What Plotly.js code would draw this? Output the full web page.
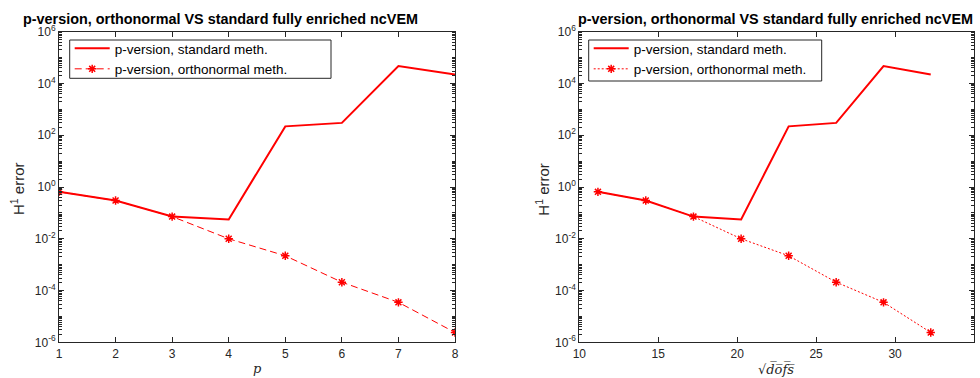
<!DOCTYPE html>
<html>
<head>
<meta charset="utf-8">
<script src="https://cdn.plot.ly/plotly-3.0.1.min.js"></script>
<style>html,body{margin:0;padding:0;background:#fff}#chart{width:980px;height:378px}</style>
</head>
<body>
<div id="chart"></div>
<script>
// Data
const pValues = [1, 2, 3, 4, 5, 6, 7, 8];
const sqrtDofs = [11.18, 14.21, 17.23, 20.25, 23.26, 26.27, 29.27, 32.26];
const errStandard = [0.65, 0.30, 0.072, 0.056, 220, 300, 47000, 22000];
const errOrtho = [0.65, 0.30, 0.072, 0.010, 0.0022, 2.1e-4, 3.5e-5, 2.4e-6];
const yTickVals = [1e-6, 1e-4, 1e-2, 1e0, 1e2, 1e4, 1e6];
const yTickText = ['10<sup>-6</sup>', '10<sup>-4</sup>', '10<sup>-2</sup>', '10<sup>0</sup>', '10<sup>2</sup>', '10<sup>4</sup>', '10<sup>6</sup>'];
const chartTitle = 'p-version, orthonormal VS standard fully enriched ncVEM';
const nameStandard = 'p-version, standard meth.';
const nameOrtho = 'p-version, orthonormal meth.';

const RED = '#ff0000';
const AX = '#262626';
const FONT = 'Liberation Sans, Arial, sans-serif';

const traces = [
  {x: pValues, y: errStandard, type: 'scatter', mode: 'lines', name: nameStandard,
   line: {color: RED, width: 2}, xaxis: 'x', yaxis: 'y', legend: 'legend'},
  {x: pValues, y: errOrtho, type: 'scatter', mode: 'lines+markers', name: nameOrtho,
   line: {color: RED, width: 1, dash: '7px,4px'}, marker: {symbol: 'asterisk-open', size: 7, color: RED, line: {color: RED, width: 1.5}},
   xaxis: 'x', yaxis: 'y', legend: 'legend'},
  {x: sqrtDofs, y: errStandard, type: 'scatter', mode: 'lines', name: nameStandard,
   line: {color: RED, width: 2}, xaxis: 'x2', yaxis: 'y2', legend: 'legend2'},
  {x: sqrtDofs, y: errOrtho, type: 'scatter', mode: 'lines+markers', name: nameOrtho,
   line: {color: RED, width: 1, dash: '2px,2px'}, marker: {symbol: 'asterisk-open', size: 7, color: RED, line: {color: RED, width: 1.5}},
   xaxis: 'x2', yaxis: 'y2', legend: 'legend2'}
];

function xAxis(domain, range, dtick, anchor) {
  return {domain: domain, range: range, dtick: dtick, tick0: 0, anchor: anchor,
    showline: true, mirror: 'ticks', linecolor: AX, linewidth: 1,
    ticks: 'inside', ticklen: 5, tickcolor: AX, showgrid: false, zeroline: false,
    tickfont: {family: FONT, size: 12, color: AX}};
}
function yAxis(domain, anchor) {
  return {type: 'log', domain: domain, range: [-6, 6], anchor: anchor,
    tickmode: 'array', tickvals: yTickVals, ticktext: yTickText,
    showline: true, mirror: 'ticks', linecolor: AX, linewidth: 1,
    ticks: 'inside', ticklen: 5, tickcolor: AX, showgrid: false, zeroline: false,
    minor: {ticks: 'inside', ticklen: 3, tickcolor: AX, dtick: 'D1', showgrid: false},
    tickfont: {family: FONT, size: 12, color: AX}};
}

const yDom = [1 - 342.3/378, 1 - 31.7/378];
const legendStyle = (xpx) => ({x: xpx/980, y: 1 - 33/378, xanchor: 'left', yanchor: 'top', bgcolor: 'rgba(0,0,0,0)',
    borderwidth: 0, font: {family: FONT, size: 13.5, color: '#000'},
    tracegroupgap: 0, itemwidth: 35});
const legendBox = (x0, x1, y0, y1) => ({type: 'rect', xref: 'paper', yref: 'paper', layer: 'above',
    x0: x0/980, x1: x1/980, y0: 1 - y1/378, y1: 1 - y0/378,
    line: {color: AX, width: 1}, fillcolor: '#fff'});
const layout = {
  width: 980, height: 378,
  margin: {l: 0, r: 0, t: 0, b: 0},
  paper_bgcolor: '#fff', plot_bgcolor: '#fff',
  font: {family: FONT, color: AX},
  showlegend: true,
  xaxis: xAxis([59/980, 455/980], [1, 8], 1, 'y'),
  yaxis: yAxis(yDom, 'x'),
  xaxis2: xAxis([579.3/980, 974/980], [10, 35], 5, 'y2'),
  yaxis2: yAxis(yDom, 'x2'),
  legend: legendStyle(69.7),
  legend2: legendStyle(588.7),
  shapes: [legendBox(69.7, 331, 40, 78.3), legendBox(588.7, 821.7, 40, 81)],
  annotations: [
    {text: '<b>' + chartTitle + '</b>', x: 220/980, y: 1 - 19/378, xref: 'paper', yref: 'paper',
     showarrow: false, xanchor: 'center', yanchor: 'middle', font: {family: FONT, size: 14.4, color: '#000'}},
    {text: '<b>' + chartTitle + '</b>', x: 775.5/980, y: 1 - 19/378, xref: 'paper', yref: 'paper',
     showarrow: false, xanchor: 'center', yanchor: 'middle', font: {family: FONT, size: 14.4, color: '#000'}},
    {text: 'H<sup>1</sup> error', x: 17/980, y: 1 - 189/378, xref: 'paper', yref: 'paper', textangle: -90,
     showarrow: false, xanchor: 'center', yanchor: 'middle', font: {family: FONT, size: 15, color: AX}},
    {text: 'H<sup>1</sup> error', x: 541.7/980, y: 1 - 189/378, xref: 'paper', yref: 'paper', textangle: -90,
     showarrow: false, xanchor: 'center', yanchor: 'middle', font: {family: FONT, size: 15, color: AX}},
    {text: '<i>p</i>', x: 257/980, y: 1 - 368/378, xref: 'paper', yref: 'paper',
     showarrow: false, xanchor: 'center', yanchor: 'middle', font: {family: 'DejaVu Serif, serif', size: 13, color: AX}},
    {text: '√<i>d\u0305o\u0305f\u0305s\u0305</i>', x: 776.7/980, y: 1 - 369/378, xref: 'paper', yref: 'paper',
     showarrow: false, xanchor: 'center', yanchor: 'middle', font: {family: 'DejaVu Serif, serif', size: 13, color: AX}}
  ]
};

Plotly.newPlot('chart', traces, layout, {displayModeBar: false, staticPlot: true});
</script>
</body>
</html>
